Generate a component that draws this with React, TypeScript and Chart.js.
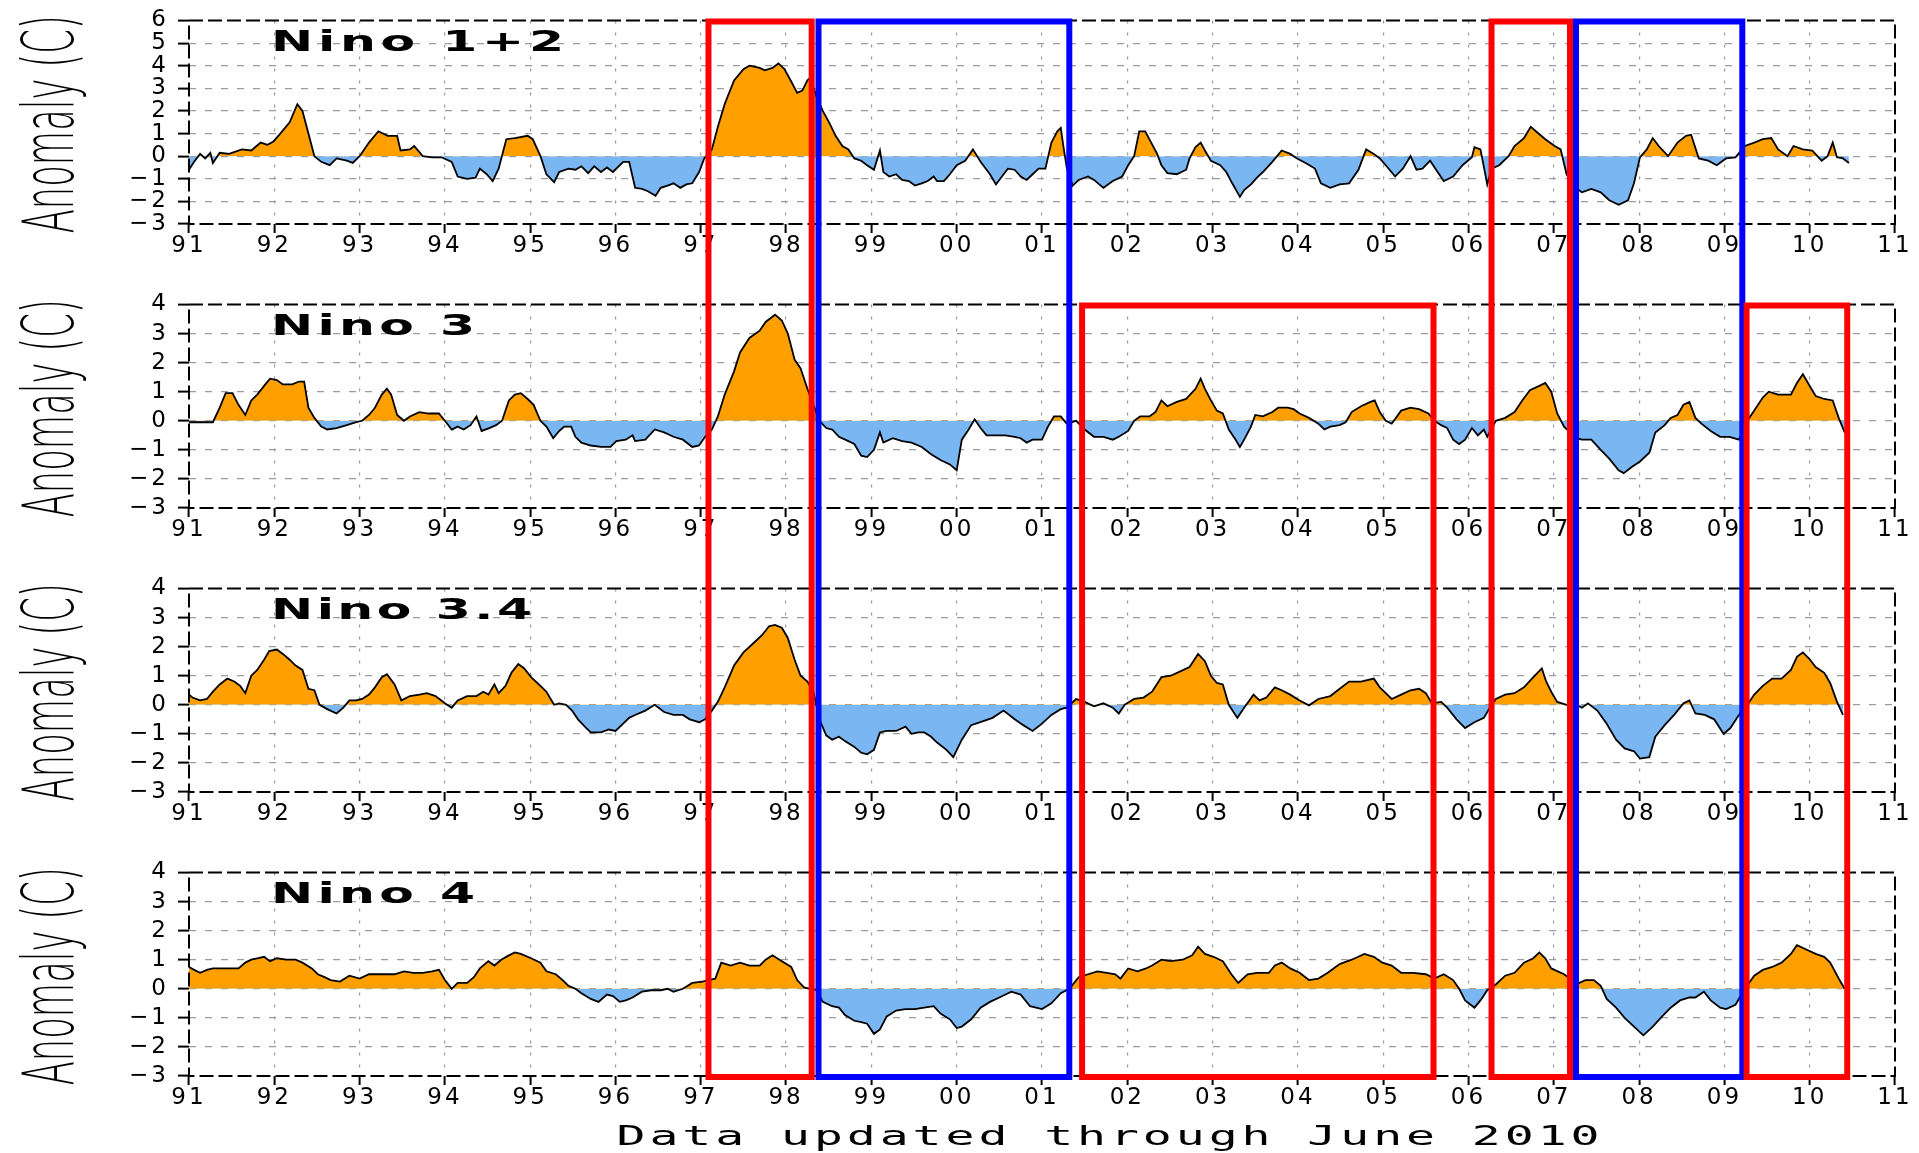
import React, { useEffect, useRef } from 'react';
import { Chart, registerables } from 'chart.js';

Chart.register(...registerables);

// ---------------- data ----------------
const PANEL_TITLES = ['Nino 1+2', 'Nino 3', 'Nino 3.4', 'Nino 4'];
const Y_TITLE = 'Anomaly (C)';
const FOOTNOTE = 'Data updated through June 2010';
const X_MIN = 1991;
const X_MAX = 2011;
const Y_MIN = -3;
const Y_MAX = [6, 4, 4, 4];

const YEARS_N12 = [1991.00,1991.06,1991.13,1991.19,1991.25,1991.28,1991.36,1991.47,1991.62,1991.73,1991.84,1991.92,1991.99,1992.06,1992.18,1992.27,1992.33,1992.40,1992.47,1992.55,1992.65,1992.73,1992.85,1992.92,1993.00,1993.11,1993.22,1993.33,1993.44,1993.48,1993.59,1993.64,1993.74,1993.85,1993.96,1994.08,1994.15,1994.26,1994.36,1994.41,1994.49,1994.56,1994.63,1994.72,1994.82,1994.97,1995.03,1995.12,1995.19,1995.28,1995.34,1995.45,1995.53,1995.60,1995.68,1995.75,1995.83,1995.90,1995.97,1996.09,1996.16,1996.23,1996.31,1996.38,1996.47,1996.53,1996.61,1996.68,1996.76,1996.83,1996.90,1996.98,1997.04,1997.13,1997.20,1997.28,1997.39,1997.50,1997.57,1997.69,1997.75,1997.84,1997.91,1997.98,1998.06,1998.13,1998.19,1998.25,1998.28,1998.36,1998.43,1998.51,1998.58,1998.66,1998.73,1998.80,1998.88,1998.95,1999.03,1999.10,1999.14,1999.21,1999.29,1999.36,1999.44,1999.51,1999.59,1999.66,1999.73,1999.77,1999.85,1999.92,2000.00,2000.10,2000.19,2000.28,2000.39,2000.46,2000.53,2000.60,2000.68,2000.75,2000.82,2000.89,2000.96,2001.04,2001.11,2001.18,2001.22,2001.25,2001.29,2001.36,2001.43,2001.54,2001.61,2001.72,2001.83,2001.94,2002.01,2002.08,2002.14,2002.21,2002.28,2002.35,2002.40,2002.47,2002.58,2002.69,2002.73,2002.80,2002.86,2002.91,2002.98,2003.09,2003.16,2003.23,2003.32,2003.37,2003.45,2003.52,2003.59,2003.70,2003.81,2003.91,2003.99,2004.09,2004.20,2004.27,2004.38,2004.49,2004.60,2004.71,2004.80,2004.89,2004.96,2005.03,2005.14,2005.23,2005.32,2005.39,2005.46,2005.55,2005.62,2005.71,2005.82,2005.93,2006.04,2006.07,2006.14,2006.22,2006.27,2006.36,2006.47,2006.54,2006.65,2006.73,2006.79,2006.90,2007.01,2007.08,2007.15,2007.26,2007.33,2007.44,2007.55,2007.65,2007.76,2007.87,2007.94,2008.01,2008.09,2008.16,2008.23,2008.34,2008.45,2008.55,2008.61,2008.70,2008.81,2008.91,2009.02,2009.13,2009.24,2009.35,2009.45,2009.55,2009.63,2009.74,2009.81,2009.92,2010.03,2010.14,2010.21,2010.27,2010.32,2010.39,2010.46];
const ANOM_N12 = [-0.6,-0.25,0.1,-0.1,0.15,-0.3,0.15,0.1,0.3,0.25,0.6,0.5,0.65,0.95,1.5,2.3,2.0,1.0,0.0,-0.25,-0.4,-0.1,-0.2,-0.3,0,0.6,1.1,0.9,0.9,0.25,0.3,0.45,0,-0.05,-0.05,-0.25,-0.9,-1.0,-0.95,-0.55,-0.8,-1.1,-0.55,0.75,0.8,0.9,0.75,0,-0.8,-1.15,-0.7,-0.55,-0.6,-0.45,-0.75,-0.45,-0.7,-0.5,-0.7,-0.25,-0.25,-1.4,-1.45,-1.55,-1.75,-1.4,-1.3,-1.2,-1.4,-1.25,-1.2,-0.7,-0.1,0.3,1.3,2.3,3.35,3.85,4.0,3.9,3.8,3.9,4.1,3.85,3.3,2.8,2.9,3.35,3.45,2.6,2.0,1.45,0.9,0.45,0.3,-0.1,-0.2,-0.4,-0.6,0.25,-0.7,-0.9,-0.8,-1.05,-1.1,-1.3,-1.2,-1.1,-0.9,-1.1,-1.1,-0.8,-0.4,-0.2,0.3,-0.25,-0.8,-1.25,-0.9,-0.55,-0.6,-0.9,-1.05,-0.8,-0.55,-0.55,0.6,1.1,1.25,0.45,-0.5,-1.3,-1.05,-0.9,-1.05,-1.4,-1.1,-0.9,-0.4,0,1.1,1.1,0.6,0.1,-0.4,-0.75,-0.8,-0.6,-0.1,0.4,0.6,0.25,-0.2,-0.4,-0.7,-1.2,-1.8,-1.5,-1.25,-0.95,-0.7,-0.25,0.25,0.1,-0.1,-0.3,-0.55,-1.2,-1.4,-1.25,-1.2,-0.6,0.3,0.1,-0.1,-0.4,-0.9,-0.55,0,-0.6,-0.55,-0.2,-0.6,-1.1,-0.9,-0.4,-0.05,0.4,0.3,-1.25,-0.55,-0.4,0.0,0.45,0.8,1.3,1.1,0.75,0.45,0.3,-0.8,-1.4,-1.6,-1.45,-1.6,-1.95,-2.15,-1.95,-1.2,-0.05,0.3,0.8,0.45,0,0.6,0.9,0.95,-0.1,-0.2,-0.4,-0.1,-0.05,0.45,0.6,0.75,0.8,0.3,0.0,0.45,0.3,0.25,-0.2,0,0.6,-0.05,-0.1,-0.3];

const YEARS_N3 = [1991.00,1991.28,1991.36,1991.43,1991.51,1991.58,1991.66,1991.73,1991.80,1991.88,1991.95,1992.03,1992.10,1992.21,1992.29,1992.35,1992.40,1992.47,1992.55,1992.62,1992.73,1992.85,1992.96,1993.03,1993.11,1993.18,1993.26,1993.32,1993.37,1993.44,1993.52,1993.59,1993.70,1993.81,1993.93,1994.00,1994.08,1994.15,1994.22,1994.30,1994.37,1994.43,1994.52,1994.60,1994.67,1994.75,1994.82,1994.89,1994.97,1995.04,1995.12,1995.19,1995.27,1995.34,1995.40,1995.48,1995.53,1995.60,1995.71,1995.83,1995.94,1996.01,1996.12,1996.20,1996.23,1996.35,1996.46,1996.57,1996.68,1996.79,1996.90,1996.98,1997.05,1997.13,1997.20,1997.28,1997.39,1997.46,1997.57,1997.69,1997.76,1997.87,1997.95,1998.02,1998.10,1998.17,1998.25,1998.32,1998.39,1998.47,1998.54,1998.62,1998.73,1998.80,1998.88,1998.95,1999.03,1999.10,1999.14,1999.25,1999.36,1999.47,1999.59,1999.70,1999.81,1999.92,2000.00,2000.06,2000.14,2000.21,2000.28,2000.35,2000.46,2000.57,2000.68,2000.75,2000.82,2000.89,2001.00,2001.07,2001.14,2001.22,2001.29,2001.40,2001.50,2001.61,2001.72,2001.83,2001.90,2002.01,2002.08,2002.15,2002.26,2002.33,2002.40,2002.47,2002.58,2002.69,2002.80,2002.86,2002.91,2002.98,2003.05,2003.12,2003.19,2003.27,2003.32,2003.37,2003.45,2003.50,2003.59,2003.70,2003.77,2003.88,2003.95,2004.02,2004.13,2004.24,2004.31,2004.38,2004.49,2004.56,2004.63,2004.74,2004.85,2004.90,2004.96,2005.03,2005.10,2005.21,2005.32,2005.42,2005.53,2005.60,2005.68,2005.75,2005.82,2005.89,2005.96,2006.04,2006.11,2006.18,2006.22,2006.32,2006.43,2006.54,2006.63,2006.72,2006.83,2006.90,2006.97,2007.04,2007.12,2007.19,2007.26,2007.33,2007.44,2007.55,2007.65,2007.76,2007.82,2007.91,2008.01,2008.12,2008.19,2008.30,2008.37,2008.45,2008.52,2008.59,2008.66,2008.73,2008.84,2008.95,2009.06,2009.17,2009.27,2009.35,2009.45,2009.52,2009.63,2009.78,2009.85,2009.92,2009.99,2010.07,2010.17,2010.27,2010.34,2010.41];
const ANOM_N3 = [-0.05,-0.05,0.45,0.95,0.95,0.55,0.2,0.7,0.9,1.2,1.45,1.4,1.25,1.25,1.35,1.35,0.45,0.1,-0.2,-0.3,-0.25,-0.15,-0.05,0,0.2,0.45,0.9,1.1,0.9,0.2,0,0.15,0.3,0.25,0.25,0,-0.3,-0.2,-0.3,-0.15,0.15,-0.35,-0.25,-0.15,0,0.7,0.9,0.95,0.75,0.55,0,-0.2,-0.6,-0.35,-0.2,-0.2,-0.55,-0.75,-0.85,-0.9,-0.9,-0.7,-0.65,-0.5,-0.7,-0.65,-0.3,-0.4,-0.55,-0.65,-0.9,-0.85,-0.55,-0.3,0.15,0.9,1.7,2.35,2.85,3.1,3.4,3.65,3.45,3.0,2.1,1.8,1.1,0.55,0.0,-0.25,-0.3,-0.55,-0.7,-0.8,-1.2,-1.25,-1.0,-0.4,-0.75,-0.6,-0.7,-0.75,-0.9,-1.15,-1.35,-1.5,-1.7,-0.65,-0.3,0.05,-0.25,-0.5,-0.5,-0.5,-0.55,-0.6,-0.75,-0.65,-0.65,-0.2,0.15,0.15,-0.1,0,-0.3,-0.55,-0.55,-0.65,-0.55,-0.35,0,0.15,0.15,0.3,0.7,0.5,0.65,0.75,1.1,1.45,1.1,0.7,0.35,0.25,-0.3,-0.65,-0.9,-0.65,-0.2,0.2,0.15,0.3,0.45,0.45,0.4,0.25,0.1,-0.1,-0.3,-0.2,-0.15,-0.05,0.3,0.5,0.65,0.7,0.3,0,-0.1,0.35,0.45,0.4,0.25,0,-0.15,-0.25,-0.65,-0.8,-0.65,-0.25,-0.5,-0.3,-0.55,0,0.1,0.3,0.7,1.05,1.2,1.3,1.0,0.25,-0.2,-0.4,-0.6,-0.65,-0.65,-1.0,-1.3,-1.7,-1.8,-1.6,-1.4,-1.1,-0.4,-0.15,0.1,0.2,0.55,0.65,0.1,-0.1,-0.35,-0.55,-0.55,-0.65,0,0.35,0.8,1.0,0.9,0.9,1.3,1.6,1.25,0.85,0.75,0.7,0.1,-0.4];

const YEARS_N34 = [1991.00,1991.04,1991.13,1991.21,1991.28,1991.36,1991.45,1991.53,1991.60,1991.66,1991.73,1991.80,1991.88,1991.94,1992.03,1992.10,1992.18,1992.25,1992.33,1992.40,1992.47,1992.53,1992.62,1992.73,1992.81,1992.88,1992.96,1993.03,1993.11,1993.18,1993.26,1993.32,1993.41,1993.49,1993.59,1993.70,1993.79,1993.89,1994.00,1994.08,1994.15,1994.26,1994.37,1994.45,1994.51,1994.58,1994.63,1994.71,1994.78,1994.86,1994.93,1995.01,1995.12,1995.19,1995.28,1995.34,1995.42,1995.49,1995.56,1995.64,1995.71,1995.83,1995.92,1996.00,1996.09,1996.16,1996.23,1996.35,1996.46,1996.57,1996.68,1996.79,1996.87,1996.98,1997.05,1997.13,1997.20,1997.28,1997.39,1997.50,1997.61,1997.72,1997.80,1997.87,1997.95,1998.02,1998.10,1998.17,1998.25,1998.32,1998.39,1998.47,1998.54,1998.62,1998.69,1998.80,1998.88,1998.95,1999.03,1999.10,1999.18,1999.29,1999.40,1999.47,1999.55,1999.62,1999.70,1999.77,1999.88,1999.96,2000.06,2000.17,2000.32,2000.42,2000.55,2000.68,2000.78,2000.89,2001.00,2001.11,2001.22,2001.29,2001.40,2001.50,2001.61,2001.72,2001.83,2001.90,2001.97,2002.08,2002.19,2002.29,2002.40,2002.51,2002.62,2002.73,2002.83,2002.91,2002.98,2003.05,2003.12,2003.19,2003.29,2003.37,2003.48,2003.55,2003.63,2003.73,2003.81,2003.91,2004.02,2004.13,2004.24,2004.38,2004.49,2004.60,2004.74,2004.89,2004.96,2005.03,2005.10,2005.21,2005.32,2005.42,2005.50,2005.57,2005.68,2005.75,2005.86,2005.96,2006.07,2006.18,2006.25,2006.32,2006.43,2006.54,2006.65,2006.76,2006.86,2006.91,2006.97,2007.04,2007.15,2007.26,2007.33,2007.40,2007.51,2007.62,2007.73,2007.83,2007.94,2008.01,2008.12,2008.19,2008.30,2008.41,2008.52,2008.59,2008.66,2008.77,2008.88,2008.99,2009.07,2009.17,2009.27,2009.35,2009.45,2009.56,2009.67,2009.78,2009.85,2009.92,2009.99,2010.07,2010.17,2010.24,2010.32,2010.39];
const ANOM_N34 = [0.35,0.25,0.15,0.2,0.45,0.7,0.9,0.8,0.65,0.4,1.0,1.2,1.55,1.85,1.9,1.75,1.55,1.35,1.2,0.55,0.5,0,-0.15,-0.3,-0.1,0.15,0.15,0.2,0.35,0.6,0.95,1.05,0.7,0.15,0.3,0.35,0.4,0.3,0.05,-0.1,0.15,0.3,0.3,0.45,0.35,0.7,0.4,0.65,1.1,1.4,1.25,0.95,0.65,0.45,0,0.05,0,-0.2,-0.5,-0.75,-0.95,-0.95,-0.85,-0.9,-0.65,-0.45,-0.35,-0.2,0,-0.25,-0.35,-0.35,-0.5,-0.6,-0.5,-0.2,0.1,0.6,1.35,1.8,2.1,2.4,2.7,2.75,2.65,2.3,1.55,1.0,0.8,0.45,-0.5,-1.05,-1.2,-1.1,-1.25,-1.45,-1.65,-1.7,-1.55,-0.95,-0.9,-0.9,-0.75,-1.0,-0.95,-0.95,-1.1,-1.3,-1.55,-1.8,-1.2,-0.7,-0.55,-0.45,-0.2,-0.5,-0.7,-0.9,-0.65,-0.35,-0.15,-0.1,0.2,0.1,-0.05,0.05,-0.1,-0.3,0,0.2,0.25,0.45,0.95,1.0,1.15,1.3,1.75,1.5,1.0,0.75,0.7,0,-0.45,-0.1,0.35,0.15,0.25,0.6,0.5,0.35,0.15,-0.02,0.2,0.3,0.55,0.8,0.8,0.9,0.6,0.4,0.2,0.35,0.5,0.55,0.4,0.05,0.1,-0.1,-0.5,-0.8,-0.6,-0.45,-0.1,0.2,0.35,0.4,0.6,0.95,1.25,0.8,0.45,0.1,0,0,-0.1,0.05,-0.2,-0.65,-1.2,-1.5,-1.6,-1.85,-1.8,-1.1,-0.7,-0.35,0.05,0.15,-0.3,-0.35,-0.5,-1.0,-0.8,-0.35,0,0.35,0.65,0.9,0.9,1.2,1.65,1.8,1.6,1.3,1.1,0.75,0.1,-0.35];

const YEARS_N4 = [1991.00,1991.06,1991.13,1991.21,1991.28,1991.39,1991.51,1991.58,1991.66,1991.73,1991.80,1991.88,1991.95,1992.03,1992.14,1992.25,1992.33,1992.44,1992.51,1992.59,1992.66,1992.77,1992.88,1993.00,1993.11,1993.26,1993.41,1993.52,1993.63,1993.74,1993.85,1993.93,1994.00,1994.08,1994.15,1994.26,1994.34,1994.41,1994.51,1994.58,1994.66,1994.75,1994.82,1994.89,1995.01,1995.12,1995.19,1995.30,1995.38,1995.45,1995.53,1995.60,1995.71,1995.80,1995.90,1995.97,1996.05,1996.12,1996.20,1996.31,1996.42,1996.53,1996.61,1996.68,1996.79,1996.90,1997.02,1997.09,1997.17,1997.24,1997.35,1997.46,1997.57,1997.69,1997.76,1997.84,1997.95,1998.06,1998.13,1998.21,1998.28,1998.36,1998.43,1998.54,1998.62,1998.69,1998.80,1998.88,1998.95,1999.03,1999.10,1999.18,1999.29,1999.40,1999.51,1999.62,1999.73,1999.81,1999.92,2000.00,2000.06,2000.17,2000.28,2000.39,2000.50,2000.64,2000.75,2000.86,2001.00,2001.11,2001.22,2001.32,2001.43,2001.54,2001.65,2001.76,2001.86,2001.92,2002.01,2002.12,2002.22,2002.29,2002.40,2002.51,2002.65,2002.76,2002.83,2002.91,2003.01,2003.12,2003.22,2003.30,2003.41,2003.52,2003.66,2003.73,2003.81,2003.91,2004.02,2004.13,2004.24,2004.35,2004.49,2004.63,2004.78,2004.89,2004.99,2005.10,2005.21,2005.35,2005.50,2005.60,2005.71,2005.82,2005.89,2005.96,2006.07,2006.14,2006.22,2006.32,2006.43,2006.54,2006.65,2006.76,2006.83,2006.90,2006.97,2007.12,2007.19,2007.26,2007.37,2007.47,2007.55,2007.62,2007.73,2007.83,2007.94,2008.05,2008.16,2008.27,2008.37,2008.48,2008.59,2008.66,2008.76,2008.84,2008.95,2009.02,2009.13,2009.24,2009.35,2009.45,2009.56,2009.67,2009.78,2009.85,2009.96,2010.07,2010.17,2010.24,2010.35,2010.41];
const ANOM_N4 = [0.75,0.65,0.55,0.65,0.7,0.7,0.7,0.7,0.9,1.0,1.05,1.1,0.95,1.05,1.0,1.0,0.9,0.7,0.5,0.4,0.3,0.25,0.45,0.35,0.5,0.5,0.5,0.6,0.55,0.55,0.6,0.65,0.3,0.0,0.2,0.2,0.4,0.7,0.95,0.8,1.0,1.15,1.25,1.2,1.05,0.9,0.6,0.5,0.3,0.1,0,-0.15,-0.35,-0.45,-0.2,-0.25,-0.45,-0.4,-0.3,-0.1,-0.05,-0.05,0.0,-0.1,0,0.2,0.25,0.3,0.35,0.9,0.8,0.9,0.8,0.8,1.0,1.15,0.95,0.75,0.3,0.05,0,-0.05,-0.45,-0.6,-0.65,-0.9,-1.1,-1.15,-1.2,-1.55,-1.4,-0.95,-0.75,-0.7,-0.7,-0.65,-0.6,-0.85,-1.05,-1.35,-1.3,-1.05,-0.65,-0.45,-0.3,-0.1,-0.2,-0.6,-0.7,-0.5,-0.15,0,0.4,0.5,0.6,0.55,0.5,0.35,0.7,0.6,0.7,0.8,1.0,0.95,1.0,1.15,1.45,1.2,1.1,0.95,0.5,0.2,0.5,0.55,0.55,0.8,0.9,0.7,0.55,0.3,0.35,0.55,0.85,1.0,1.2,1.1,0.9,0.8,0.55,0.55,0.5,0.35,0.5,0.3,0,-0.4,-0.65,-0.4,-0.05,0.15,0.45,0.55,0.9,1.05,1.25,1.05,0.7,0.5,0.35,0.15,0.3,0.3,0.1,-0.35,-0.65,-1.0,-1.3,-1.6,-1.3,-0.95,-0.65,-0.4,-0.3,-0.3,-0.1,-0.4,-0.65,-0.7,-0.55,0,0.45,0.65,0.75,0.9,1.2,1.5,1.35,1.2,1.1,0.9,0.3,0];

const SERIES_YEARS = [YEARS_N12, YEARS_N3, YEARS_N34, YEARS_N4];
const SERIES_ANOM = [ANOM_N12, ANOM_N3, ANOM_N34, ANOM_N4];

// highlighted periods (red = warm, blue = cold)
const BOX_START = [1997.09, 1998.38, 2001.47, 2006.27, 2007.26, 2009.26];
const BOX_END = [1998.30, 2001.32, 2005.59, 2007.19, 2009.21, 2010.44];
const BOX_KIND = ['warm', 'cold', 'warm', 'warm', 'cold', 'warm'];
const BOX_FIRST_PANEL = [0, 0, 1, 0, 0, 1];

// ---------------- styles ----------------
const W = 1919;
const PANEL_H = 284;
const LAST_H = 1153 - 3 * PANEL_H;
const ORANGE = '#FFA000';
const SKY = '#7AB6F2';
const GRID = '#9c9c9c';
const BOX_COLORS: Record<string, string> = { warm: '#FF0000', cold: '#0000FF' };
const TITLE_W = [293, 204, 261, 204];
const TICK_FONT = { family: "'DejaVu Sans', sans-serif", size: 23, lineHeight: 1 };

function drawStretched(ctx: CanvasRenderingContext2D, text: string, x: number, y: number, font: string, targetW: number, sx: number, align: 'left' | 'center') {
  ctx.save();
  ctx.font = font;
  (ctx as any).letterSpacing = '0px';
  const natural = ctx.measureText(text).width;
  let s = sx;
  let ls = (targetW / s - natural) / Math.max(1, text.length - 1);
  if (ls < 0) { ls = 0; s = targetW / natural; }
  (ctx as any).letterSpacing = ls + 'px';
  const drawn = natural + ls * (text.length - 1);
  ctx.translate(x, y);
  ctx.scale(s, 1);
  ctx.textAlign = 'left';
  ctx.textBaseline = 'alphabetic';
  ctx.fillStyle = '#000';
  ctx.fillText(text, align === 'center' ? -drawn / 2 : 0, 0);
  ctx.restore();
}

function decorPlugin(p: number) {
  return {
    id: 'decor' + p,
    beforeDraw(chart: any) {
      chart.ctx.letterSpacing = '3px';
    },
    afterDatasetsDraw(chart: any) {
      const { ctx, chartArea: a } = chart;
      ctx.save();
      ctx.strokeStyle = '#000';
      ctx.lineWidth = 2;
      ctx.setLineDash([14, 5]);
      ctx.strokeRect(a.left, a.top, a.right - a.left, a.bottom - a.top);
      ctx.restore();
    },
    afterDraw(chart: any) {
      const { ctx, chartArea: a } = chart;
      const xs = chart.scales.x;
      const ys = chart.scales.y;
      ctx.save();
      ctx.letterSpacing = '0px';
      // panel title
      drawStretched(ctx, PANEL_TITLES[p], 271, a.top + 30, "bold 28px 'DejaVu Sans', sans-serif", TITLE_W[p], 1.8, 'left');
      // y-axis title (rotated, condensed)
      ctx.save();
      ctx.translate(73, (a.top + a.bottom) / 2 + 2);
      ctx.rotate(-Math.PI / 2);
      ctx.font = "200 72px 'DejaVu Sans', sans-serif";
      const nat = ctx.measureText(Y_TITLE).width;
      ctx.scale(218 / nat, 1);
      ctx.fillStyle = '#000';
      ctx.textAlign = 'center';
      ctx.textBaseline = 'alphabetic';
      ctx.fillText(Y_TITLE, 0, 0);
      ctx.restore();
      // highlight boxes
      ctx.lineWidth = 6;
      ctx.setLineDash([]);
      ctx.lineJoin = 'miter';
      ctx.lineCap = 'butt';
      for (let i = 0; i < BOX_START.length; i++) {
        if (p < BOX_FIRST_PANEL[i]) continue;
        const x1 = xs.getPixelForValue(BOX_START[i]);
        const x2 = xs.getPixelForValue(BOX_END[i]);
        const hasTop = p === BOX_FIRST_PANEL[i];
        const hasBottom = p === 3;
        const yT = hasTop ? ys.getPixelForValue(ys.max) + 1 : -6;
        const yB = hasBottom ? ys.getPixelForValue(ys.min) + 1 : chart.height + 6;
        ctx.strokeStyle = BOX_COLORS[BOX_KIND[i]];
        ctx.beginPath();
        if (hasTop && hasBottom) {
          ctx.rect(x1, yT, x2 - x1, yB - yT);
        } else if (hasTop) {
          ctx.moveTo(x1, yB); ctx.lineTo(x1, yT); ctx.lineTo(x2, yT); ctx.lineTo(x2, yB);
        } else if (hasBottom) {
          ctx.moveTo(x1, yT); ctx.lineTo(x1, yB); ctx.lineTo(x2, yB); ctx.lineTo(x2, yT);
        } else {
          ctx.moveTo(x1, yT); ctx.lineTo(x1, yB); ctx.moveTo(x2, yT); ctx.lineTo(x2, yB);
        }
        ctx.stroke();
      }
      // footnote under last panel
      if (p === 3) {
        drawStretched(ctx, FOOTNOTE, 1108, chart.height - 8, "26px 'DejaVu Sans Mono', monospace", 983, 1.85, 'center');
      }
      ctx.restore();
    },
  };
}

function edgeColor(min: number, max: number) {
  return (c: any) => {
    const v = c.tick ? c.tick.value : null;
    if (v === null) return GRID;
    return Math.abs(v - min) < 1e-6 || Math.abs(v - max) < 1e-6 ? 'rgba(0,0,0,0)' : GRID;
  };
}

function makeConfig(p: number): any {
  const yMax = Y_MAX[p];
  const pts = SERIES_YEARS[p].map((x, i) => ({ x, y: SERIES_ANOM[p][i] }));
  return {
    type: 'line',
    data: {
      datasets: [
        {
          data: pts,
          borderColor: '#000',
          borderWidth: 1.8,
          pointRadius: 0,
          tension: 0,
          fill: { target: 'origin', above: ORANGE, below: SKY },
        },
      ],
    },
    options: {
      animation: false,
      responsive: false,
      maintainAspectRatio: false,
      events: [],
      layout: { padding: { left: 0, right: 24, top: 12, bottom: p === 3 ? LAST_H - PANEL_H : 0 } },
      plugins: { legend: { display: false }, tooltip: { enabled: false }, title: { display: false } },
      scales: {
        x: {
          type: 'linear',
          min: X_MIN,
          max: X_MAX,
          afterFit: (s: any) => { s.height = 60; },
          ticks: {
            stepSize: 1,
            autoSkip: false,
            maxRotation: 0,
            minRotation: 0,
            padding: 2,
            color: '#000',
            font: TICK_FONT,
            callback: (v: number) => String(Math.round(v) % 100).padStart(2, '0'),
          },
          grid: { color: edgeColor(X_MIN, X_MAX), lineWidth: 1.2, tickColor: '#000', tickLength: 9, tickWidth: 2 },
          border: { display: false, dash: [3, 9] },
        },
        y: {
          type: 'linear',
          min: Y_MIN,
          max: yMax,
          afterFit: (s: any) => { s.width = 189; },
          ticks: {
            stepSize: 1,
            autoSkip: false,
            padding: 9,
            color: '#000',
            font: TICK_FONT,
            callback: (v: number) => (v < 0 ? '\u2212' + Math.abs(v) : String(v)),
          },
          grid: { color: edgeColor(Y_MIN, yMax), lineWidth: 1.2, tickColor: '#000', tickLength: 11, tickWidth: 2 },
          border: { display: false, dash: [7, 9] },
        },
      },
    },
    plugins: [decorPlugin(p)],
  };
}

function Panel({ index }: { index: number }) {
  const ref = useRef<HTMLCanvasElement | null>(null);
  useEffect(() => {
    if (!ref.current) return;
    const chart = new Chart(ref.current, makeConfig(index));
    return () => chart.destroy();
  }, [index]);
  const h = index === 3 ? LAST_H : PANEL_H;
  return (
    <canvas
      ref={ref}
      width={W}
      height={h}
      style={{ position: 'absolute', left: 0, top: index * PANEL_H, width: W, height: h, display: 'block' }}
    />
  );
}

export default function App() {
  return (
    <div style={{ position: 'absolute', left: 0, top: 0, width: W, height: 1153, background: '#fff', overflow: 'hidden' }}>
      {[0, 1, 2, 3].map((i) => (
        <Panel key={i} index={i} />
      ))}
    </div>
  );
}
